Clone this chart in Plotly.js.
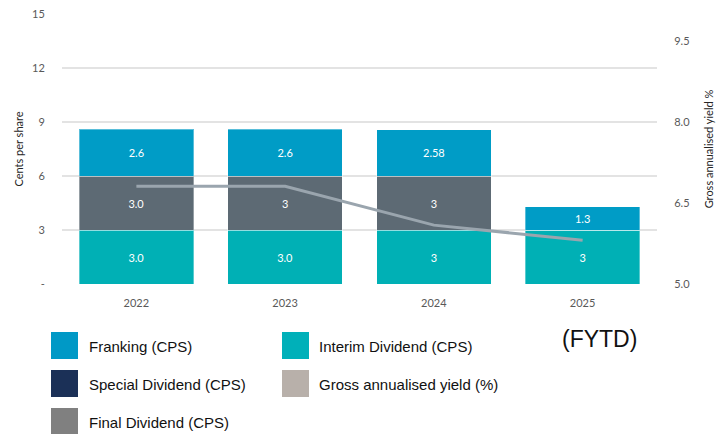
<!DOCTYPE html>
<html>
<head>
<meta charset="utf-8">
<script src="https://cdn.plot.ly/plotly-3.0.1.min.js"></script>
<style>html,body{margin:0;padding:0;background:#fff;}#chart{width:725px;height:434px;}</style>
</head>
<body>
<div id="chart"></div>
<script>
// ---- data ----
const years = ["2022", "2023", "2024", "2025"];
const interimDividend = [3.0, 3.0, 3, 3];
const interimLabels = ["3.0", "3.0", "3", "3"];
const finalDividend = [3.0, 3, 3, 0];
const finalLabels = ["3.0", "3", "3", ""];
const specialDividend = [0, 0, 0, 0];
const franking = [2.6, 2.6, 2.58, 1.3];
const frankingLabels = ["2.6", "2.6", "2.58", "1.3"];
const grossYield = [6.81, 6.81, 6.09, 5.81];
const leftTickVals = [0, 3, 6, 9, 12, 15];
const leftTickText = ["-", "3", "6", "9", "12", "15"];
const rightTickVals = [5.0, 6.5, 8.0, 9.5];
const rightTickText = ["5.0", "6.5", "8.0", "9.5"];
const legendNames = ["Franking (CPS)", "Interim Dividend (CPS)", "Special Dividend (CPS)", "Gross annualised yield (%)", "Final Dividend (CPS)"];
const legendColors = ["#0099C6", "#00B0B9", "#1B3057", "#B8B0AA", "#808080"];

// ---- layout helpers ----
const L = 62, R = 657, T = 14, B = 284;
const W = 725, H = 434;
const px = x => (x - L) / (R - L);
const py = y => (B - y) / (B - T);

const tickFont = {family: "Lato, 'Open Sans', sans-serif", size: 11, color: "#595959"};
const barText = {family: "Lato, 'Open Sans', sans-serif", size: 11, color: "#FFFFFF"};
const edge = {color: "rgba(255,255,255,0.35)", width: 1};

const traces = [
  {type: "bar", name: "Interim Dividend (CPS)", x: years, y: interimDividend, text: interimLabels,
   textposition: "inside", insidetextanchor: "middle", textfont: barText, textangle: 0,
   marker: {color: "#00B0B5", line: edge}, hoverinfo: "y"},
  {type: "bar", name: "Final Dividend (CPS)", x: years, y: finalDividend, text: finalLabels,
   textposition: "inside", insidetextanchor: "middle", textfont: barText, textangle: 0,
   marker: {color: "#5D6A74", line: edge}, hoverinfo: "y"},
  {type: "bar", name: "Special Dividend (CPS)", x: years, y: specialDividend,
   marker: {color: "#1B3057"}, hoverinfo: "y"},
  {type: "bar", name: "Franking (CPS)", x: years, y: franking, text: frankingLabels,
   textposition: "inside", insidetextanchor: "middle", textfont: barText, textangle: 0,
   marker: {color: "#009CC6", line: edge}, hoverinfo: "y"},
  {type: "scatter", mode: "lines", name: "Gross annualised yield (%)", x: years, y: grossYield,
   yaxis: "y2", line: {color: "#9AA5AE", width: 3}, hoverinfo: "y"}
];

const shapes = [];
const annotations = [];
const legendPos = [
  {sx: 51, tx: 88, y0: 332, y1: 359},
  {sx: 282, tx: 318, y0: 332, y1: 359},
  {sx: 51, tx: 88, y0: 370, y1: 397},
  {sx: 282, tx: 318, y0: 370, y1: 397},
  {sx: 51, tx: 88, y0: 408, y1: 435}
];
legendNames.forEach((n, i) => {
  const p = legendPos[i];
  shapes.push({type: "rect", xref: "paper", yref: "paper", x0: px(p.sx), x1: px(p.sx + 27),
    y0: py(p.y1), y1: py(p.y0), fillcolor: legendColors[i], line: {width: 0}, layer: "above"});
  annotations.push({xref: "paper", yref: "paper", x: px(p.tx - 1), y: py((p.y0 + p.y1) / 2 + 1),
    xanchor: "left", yanchor: "middle", showarrow: false, text: n,
    font: {family: "'Liberation Sans', Arial, sans-serif", size: 15, color: "#111"}});
});
annotations.push({xref: "paper", yref: "paper", x: px(599), y: py(338.5), xanchor: "center", yanchor: "middle",
  showarrow: false, text: "(FYTD)", font: {family: "'Liberation Sans', Arial, sans-serif", size: 23, color: "#111"}});

const layout = {
  width: W, height: H,
  margin: {l: L, r: W - R, t: T, b: H - B, pad: 0},
  paper_bgcolor: "#fff", plot_bgcolor: "#fff",
  barmode: "stack", bargap: 0.23,
  showlegend: false,
  xaxis: {type: "category", tickfont: tickFont, showgrid: false, zeroline: false, showline: false,
          ticks: "outside", ticklen: 9, tickcolor: "rgba(0,0,0,0)", fixedrange: true},
  yaxis: {range: [0, 15], tickvals: leftTickVals, ticktext: leftTickText, tickfont: tickFont,
          showgrid: true, gridcolor: "#E3E3E3", gridwidth: 1.5, zeroline: false, showline: false,
          ticks: "outside", ticklen: 14, tickcolor: "rgba(0,0,0,0)",
          title: {text: "Cents per share", font: {family: "Lato, 'Open Sans', sans-serif", size: 11, color: "#262626"}, standoff: 6},
          fixedrange: true},
  yaxis2: {overlaying: "y", side: "right", range: [5, 10], tickvals: rightTickVals, ticktext: rightTickText,
           tickfont: tickFont, showgrid: false, zeroline: false, showline: false,
           ticks: "outside", ticklen: 14, tickcolor: "rgba(0,0,0,0)",
           title: {text: "Gross annualised yield %", font: {family: "Lato, 'Open Sans', sans-serif", size: 11, color: "#262626"}, standoff: 16},
           fixedrange: true},
  shapes: shapes,
  annotations: annotations
};

Plotly.newPlot("chart", traces, layout, {displayModeBar: false, staticPlot: true});
</script>
</body>
</html>
